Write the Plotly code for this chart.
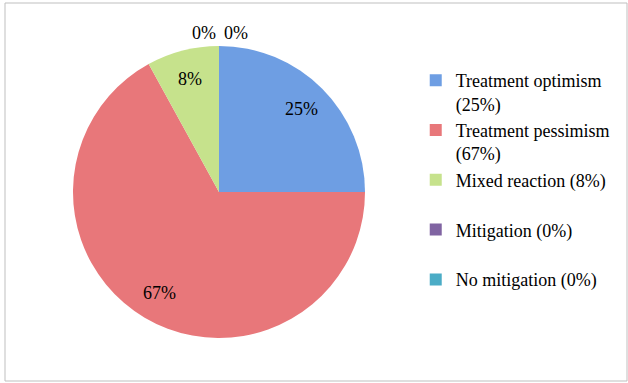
import math
import plotly.graph_objects as go

labels = ["Treatment optimism", "Treatment pessimism", "Mixed reaction", "Mitigation", "No mitigation"]
legend_labels = ["Treatment optimism<br>(25%)", "Treatment pessimism<br>(67%)",
                 "Mixed reaction (8%)<br> ", "Mitigation (0%)<br> ", "No mitigation (0%)<br> "]
values = [25, 67, 8, 0, 0]
colors = ["#6E9EE3", "#E8777A", "#C6E28C", "#8064A2", "#4BACC6"]

FONT = "Liberation Serif"
FS = 18
W, H = 628, 383
CX, CY, R = 219, 192, 146  # pie centre / radius in layout pixels

total = sum(values)
# plotly places the small slice's label; larger slices are labelled along their mid-angle
slice_text = [f"{round(v / total * 100)}%" if 0 < v <= 10 else "" for v in values]

fig = go.Figure()
fig.add_trace(go.Pie(
    labels=legend_labels,
    values=values,
    sort=False,
    direction="clockwise",
    rotation=0,
    marker=dict(colors=colors, line=dict(width=0)),
    text=slice_text,
    textinfo="text",
    textposition="inside",
    insidetextorientation="horizontal",
    textfont=dict(family=FONT, size=FS, color="#000000"),
    domain=dict(x=[(CX - R) / W, (CX + R) / W], y=[1 - (CY + R) / H, 1 - (CY - R) / H]),
    hoverinfo="label+percent",
    showlegend=True,
))

cum = 0
for v in values:
    if v > 10:
        mid = (cum + v / 2) / total * 2 * math.pi
        px = CX + 0.8 * R * math.sin(mid)
        py = CY - 0.8 * R * math.cos(mid)
        fig.add_annotation(x=px / W, y=1 - py / H, xref="paper", yref="paper",
                           xanchor="center", yanchor="middle",
                           text=f"{round(v / total * 100)}%", showarrow=False,
                           font=dict(family=FONT, size=FS, color="#000"))
    cum += v

# zero-value slices have no area; label them above the top of the pie
zero_vals = [v for v in values if v == 0]
for k, v in enumerate(zero_vals):
    fig.add_annotation(x=(204 + 32 * k) / W, y=1 - 33 / H, xref="paper", yref="paper",
                       xanchor="center", yanchor="middle",
                       text=f"{v}%", showarrow=False,
                       font=dict(family=FONT, size=FS, color="#000"))

fig.add_shape(type="rect", xref="paper", yref="paper", x0=5 / W, x1=627 / W, y0=2 / H, y1=380 / H,
              line=dict(color="#BFBFBF", width=1))

fig.update_layout(
    width=W, height=H,
    margin=dict(l=0, r=0, t=0, b=0),
    paper_bgcolor="white", plot_bgcolor="white",
    font=dict(family=FONT, size=FS, color="#000"),
    legend=dict(x=0.662, y=1 - 62 / H, xanchor="left", yanchor="top",
                valign="top", font=dict(family=FONT, size=FS, color="#000"),
                bgcolor="rgba(0,0,0,0)"),
)

fig.write_html("out.html")
